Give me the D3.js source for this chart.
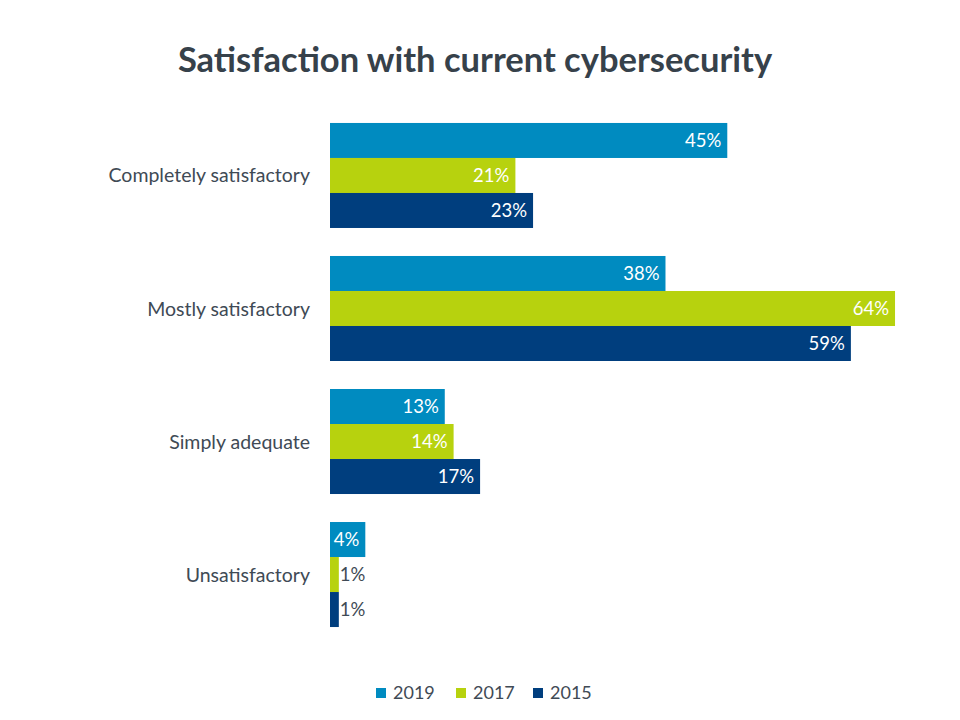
<!DOCTYPE html>
<html><head><meta charset="utf-8">
<script src="https://cdn.jsdelivr.net/npm/d3@7/dist/d3.min.js"></script>
<style>body{margin:0;background:#fff;} text{font-family:"Lato","Open Sans",sans-serif;}</style>
</head><body><svg id="c" width="960" height="720"></svg>
<script>
const categories = ["Completely satisfactory","Mostly satisfactory","Simply adequate","Unsatisfactory"];
const seriesNames = ["2019","2017","2015"];
const values2019 = [45,38,13,4];
const values2017 = [21,64,14,1];
const values2015 = [23,59,17,1];
const colors = ["#008BC0","#B7D20E","#003E7E"];
const series = [values2019, values2017, values2015];

const svg = d3.select("#c");
svg.append("rect").attr("width",960).attr("height",720).attr("fill","#fff");
svg.append("text").attr("x",475).attr("y",72).attr("text-anchor","middle")
  .attr("font-size",34.5).attr("font-weight",700).attr("fill","#36414A")
  .text("Satisfaction with current cybersecurity");

const x = d3.scaleLinear().domain([0,70]).range([330,330+618]);
const y0 = d3.scaleBand().domain(categories).range([109,641]).paddingInner(28/133).paddingOuter(0.105);
const y1 = d3.scaleBand().domain(seriesNames).range([0,y0.bandwidth()]);

const g = svg.append("g");
categories.forEach((c,ci)=>{
  series.forEach((vals,si)=>{
    const v = vals[ci];
    const yy = y0(c)+y1(seriesNames[si]);
    const w = x(v)-x(0);
    g.append("rect").attr("x",x(0)).attr("y",yy).attr("width",w).attr("height",y1.bandwidth()).attr("fill",colors[si]);
    const t = g.append("text").attr("y",yy+y1.bandwidth()/2).attr("dy","0.36em").attr("font-size",18.5).text(v+"%");
    const tw = t.node().getComputedTextLength();
    if (tw+4 < w) {
      t.attr("x",x(v)-6).attr("text-anchor","end").attr("fill","#fff");
    } else {
      t.attr("x",x(v)+1).attr("text-anchor","start").attr("fill","#404A55");
    }
  });
  g.append("text").attr("x",310).attr("y",y0(c)+y0.bandwidth()/2).attr("dy","0.36em")
    .attr("text-anchor","end").attr("font-size",19.5).attr("fill","#404A55").text(c);
});

// legend
const legendX = [376,456,533];
const lg = svg.append("g");
seriesNames.forEach((s,i)=>{
  lg.append("rect").attr("x",legendX[i]).attr("y",688).attr("width",10).attr("height",10).attr("fill",colors[i]);
  lg.append("text").attr("x",legendX[i]+17).attr("y",693).attr("dy","0.36em").attr("font-size",18).attr("fill","#404A55").text(s);
});
</script></body></html>
